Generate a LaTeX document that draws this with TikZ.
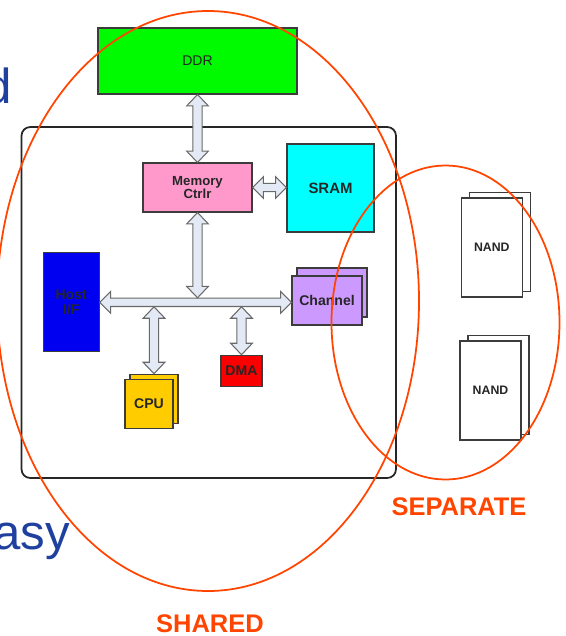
\documentclass[tikz,border=0pt]{standalone}
\usepackage{fontspec}
\setmainfont{Liberation Sans}
\usetikzlibrary{calc}

\definecolor{ddrgreen}{RGB}{0,250,0}
\definecolor{ctrlpink}{RGB}{255,153,204}
\definecolor{sramcyan}{RGB}{0,255,255}
\definecolor{hostblue}{RGB}{0,0,240}
\definecolor{cpuyellow}{RGB}{255,204,0}
\definecolor{dmared}{RGB}{250,0,0}
\definecolor{chanpurple}{RGB}{204,153,255}
\definecolor{busfill}{RGB}{228,234,245}
\definecolor{busline}{RGB}{105,105,105}
\definecolor{boxline}{RGB}{60,60,60}
\definecolor{groupred}{RGB}{255,69,0}
\definecolor{slideblue}{RGB}{31,64,158}

\tikzset{
  sz/.style 2 args={minimum width=#1*0.02cm, minimum height=#2*0.02cm},
  block/.style={draw=boxline, line width=0.6pt, inner sep=0pt, align=center,
    text=black!85, font=\fontsize{8}{9}\selectfont\bfseries},
  fatarrow/.style={draw=busline, fill=busfill, line width=0.6pt},
  % fat double arrow, top to bottom
  vfat/.style={to path={let \p1=(\tikztostart), \p2=(\tikztotarget) in
    (\x1,\y1) -- (\x1+6.2pt,\y1-6.5pt) -- (\x1+2.6pt,\y1-6.5pt)
    -- (\x1+2.6pt,\y2+6.5pt) -- (\x1+6.2pt,\y2+6.5pt) -- (\x1,\y2)
    -- (\x1-6.2pt,\y2+6.5pt) -- (\x1-2.6pt,\y2+6.5pt)
    -- (\x1-2.6pt,\y1-6.5pt) -- (\x1-6.2pt,\y1-6.5pt) -- cycle}},
  % fat double arrow, left to right
  hfat/.style={to path={let \p1=(\tikztostart), \p2=(\tikztotarget) in
    (\x1,\y1) -- (\x1+6.2pt,\y1+6.2pt) -- (\x1+6.2pt,\y1+2.4pt)
    -- (\x2-6.2pt,\y1+2.4pt) -- (\x2-6.2pt,\y1+6.2pt) -- (\x2,\y1)
    -- (\x2-6.2pt,\y1-6.2pt) -- (\x2-6.2pt,\y1-2.4pt)
    -- (\x1+6.2pt,\y1-2.4pt) -- (\x1+6.2pt,\y1-6.2pt) -- cycle}},
  board/.style={draw=black!85, line width=1pt, rounded corners=5pt},
  group/.style={draw=groupred, line width=1pt},
  grouplabel/.style={text=groupred, font=\fontsize{14.5}{16}\selectfont\bfseries},
  slidetext/.style={text=slideblue, inner sep=0pt, font=\fontsize{28}{30}\selectfont}
}

\begin{document}
\begin{tikzpicture}[x=0.02cm, y=-0.02cm]
  \useasboundingbox (0,0) rectangle (565,636);
  \clip (0,0) rectangle (565,636);

  % slide text behind the drawing
  \node[slidetext, anchor=base east] (sd) at (12,103) {d};
  \node[slidetext, anchor=base west] (sasy) at (-7,549) {asy};

  % controller board
  \draw[board] (21.5,127) rectangle (396,478);

  \node[block, fill=ddrgreen, sz={199}{66}, font=\fontsize{8}{9}\selectfont] (ddr) at (197.5,61) {DDR};
  \node[block, fill=ctrlpink, sz={109}{49}, font=\fontsize{7.5}{7.8}\selectfont\bfseries] (mc) at (197.5,187.5) {Memory\\Ctrlr};
  \node[block, fill=sramcyan, sz={87}{88}, font=\fontsize{8.5}{9}\selectfont\bfseries] (sram) at (330.5,188) {SRAM};
  \node[block, fill=hostblue, sz={56}{99}] (host) at (71.2,302.3) {Host\\I/F};
  \node[block, fill=dmared, sz={41}{31}] (dma) at (241.5,370.7) {DMA};

  % stacked parts
  \node[block, fill=cpuyellow, sz={48}{49}] (cpub) at (154,398.7) {};
  \node[block, fill=cpuyellow, sz={48}{49}] (cpu) at (149,404) {CPU};
  \node[block, fill=chanpurple, sz={70}{49}] (chanb) at (332,292.5) {};
  \node[block, fill=chanpurple, sz={70}{49}] (chan) at (327,300.5) {Channel};

  \node[block, fill=white, sz={61}{99}] (nandab) at (499.7,242) {};
  \node[block, fill=white, sz={61}{99}, font=\fontsize{7}{8}\selectfont\bfseries] (nanda) at (491.8,247.5) {NAND};
  \node[block, fill=white, sz={61}{99}] (nandbb) at (498.5,385) {};
  \node[block, fill=white, sz={61}{99}, font=\fontsize{7}{8}\selectfont\bfseries] (nandb) at (490.5,390.5) {NAND};

  % bus and links
  \coordinate (bus) at (host.east);
  \path[fatarrow] (ddr.south) to[vfat] (mc.north);
  \path[fatarrow] (mc.east) to[hfat] (sram.west);
  \path[fatarrow] (bus) to[hfat] (bus -| chan.west);
  \path[fatarrow] (mc.south) to[vfat] ($(mc.south |- bus)+(0,-4.5)$);
  \path[fatarrow] ($(cpub.north |- bus)+(0,4.5)$) to[vfat] (cpub.north);
  \path[fatarrow] ($(dma.north |- bus)+(0,4.5)$) to[vfat] (dma.north);

  % shared / separate groups
  \draw[group] (208,301) ellipse [x radius=211, y radius=290];
  \draw[group] (445.5,322.5) ellipse [x radius=114, y radius=157];
  \node[grouplabel] (shared) at (210,624) {SHARED};
  \node[grouplabel] (separate) at (459,507) {SEPARATE};
\end{tikzpicture}
\end{document}
